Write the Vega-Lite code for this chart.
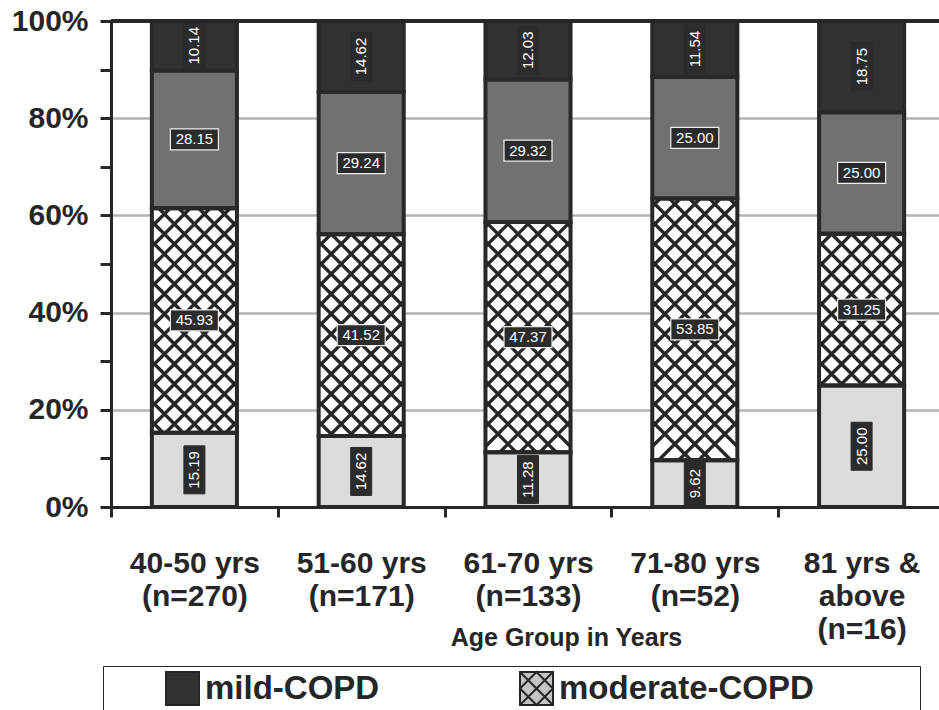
{
  "$schema": "https://vega.github.io/schema/vega-lite/v6.json",
  "width": 828,
  "height": 486,
  "autosize": {"type": "none"},
  "padding": {"left": 111, "top": 21, "right": 0, "bottom": 203},
  "background": "#ffffff",
  "config": {
    "view": {"stroke": null},
    "font": "Liberation Sans"
  },
  "data": {
    "values": [
      {"group": "40-50 yrs\n(n=270)", "category": "very severe-COPD", "value": 15.19},
      {"group": "40-50 yrs\n(n=270)", "category": "moderate-COPD", "value": 45.93},
      {"group": "40-50 yrs\n(n=270)", "category": "severe-COPD", "value": 28.15},
      {"group": "40-50 yrs\n(n=270)", "category": "mild-COPD", "value": 10.14},
      {"group": "51-60 yrs\n(n=171)", "category": "very severe-COPD", "value": 14.62},
      {"group": "51-60 yrs\n(n=171)", "category": "moderate-COPD", "value": 41.52},
      {"group": "51-60 yrs\n(n=171)", "category": "severe-COPD", "value": 29.24},
      {"group": "51-60 yrs\n(n=171)", "category": "mild-COPD", "value": 14.62},
      {"group": "61-70 yrs\n(n=133)", "category": "very severe-COPD", "value": 11.28},
      {"group": "61-70 yrs\n(n=133)", "category": "moderate-COPD", "value": 47.37},
      {"group": "61-70 yrs\n(n=133)", "category": "severe-COPD", "value": 29.32},
      {"group": "61-70 yrs\n(n=133)", "category": "mild-COPD", "value": 12.03},
      {"group": "71-80 yrs\n(n=52)", "category": "very severe-COPD", "value": 9.62},
      {"group": "71-80 yrs\n(n=52)", "category": "moderate-COPD", "value": 53.85},
      {"group": "71-80 yrs\n(n=52)", "category": "severe-COPD", "value": 25.00},
      {"group": "71-80 yrs\n(n=52)", "category": "mild-COPD", "value": 11.54},
      {"group": "81 yrs &\nabove\n(n=16)", "category": "very severe-COPD", "value": 25.00},
      {"group": "81 yrs &\nabove\n(n=16)", "category": "moderate-COPD", "value": 31.25},
      {"group": "81 yrs &\nabove\n(n=16)", "category": "severe-COPD", "value": 25.00},
      {"group": "81 yrs &\nabove\n(n=16)", "category": "mild-COPD", "value": 18.75}
    ]
  },
  "transform": [
    {"calculate": "indexof(['very severe-COPD','moderate-COPD','severe-COPD','mild-COPD'], datum.category)", "as": "ord"},
    {"stack": "value", "groupby": ["group"], "sort": [{"field": "ord", "order": "ascending"}], "offset": "normalize", "as": ["v0", "v1"]},
    {"calculate": "(datum.v0 + datum.v1) / 2", "as": "mid"}
  ],
  "layer": [
    {
      "transform": [{"filter": "datum.category === 'moderate-COPD'"}],
      "mark": {"type": "bar", "width": {"band": 0.51}, "fill": "#ffffff", "strokeWidth": 0},
      "encoding": {
        "x": {
          "field": "group", "type": "nominal", "sort": null,
          "scale": {"range": [0, 834], "paddingInner": 0, "paddingOuter": 0},
          "title": "Age Group in Years",
          "axis": {
            "labelExpr": "split(datum.label, '\\n')",
            "labelAngle": 0,
            "labelOverlap": false,
            "labelLimit": 0,
            "labelFont": "Liberation Sans",
            "labelFontSize": 30,
            "labelFontWeight": "bold",
            "labelColor": "#262626",
            "labelLineHeight": 33,
            "labelPadding": 31,
            "tickBand": "extent",
            "tickSize": 10,
            "tickWidth": 3,
            "tickColor": "#262626",
            "domainColor": "#262626",
            "domainWidth": 3,
            "grid": false,
            "titleFont": "Liberation Sans",
            "titleFontSize": 25,
            "titleFontWeight": "bold",
            "titleColor": "#262626",
            "titleX": 455,
            "titleY": 138,
            "titleAlign": "center",
            "titleBaseline": "alphabetic"
          }
        },
        "y": {
          "field": "v0", "type": "quantitative",
          "scale": {"domain": [0, 1], "nice": false, "zero": true},
          "title": null,
          "axis": {
            "values": [0, 0.05, 0.1, 0.15, 0.2, 0.25, 0.3, 0.35, 0.4, 0.45, 0.5, 0.55, 0.6, 0.65, 0.7, 0.75, 0.8, 0.85, 0.9, 0.95, 1],
            "format": ".0%",
            "labelExpr": "round(datum.value * 100) % 20 === 0 ? datum.label : ''",
            "labelFlush": false,
            "labelOverlap": false,
            "labelFont": "Liberation Sans",
            "labelFontSize": 30,
            "labelFontWeight": "bold",
            "labelColor": "#262626",
            "labelPadding": 12,
            "tickSize": 11,
            "tickWidth": 3,
            "tickColor": "#262626",
            "domainColor": "#262626",
            "domainWidth": 3,
            "grid": true,
            "gridColor": "#b4b4b4",
            "gridWidth": 2.5,
            "gridOpacity": {"condition": {"test": "round(datum.value * 100) % 20 === 0 && datum.value > 0.01 && datum.value < 0.99", "value": 1}, "value": 0}
          }
        },
        "y2": {"field": "v1"}
      }
    },
    {
      "transform": [{"filter": "datum.category === 'moderate-COPD'"}],
      "mark": {
        "type": "point",
        "shape": "M-42.5 -242.5L42.5 -157.5M-42.5 -222.5L42.5 -137.5M-42.5 -202.5L42.5 -117.5M-42.5 -182.5L42.5 -97.5M-42.5 -162.5L42.5 -77.5M-42.5 -142.5L42.5 -57.5M-42.5 -122.5L42.5 -37.5M-42.5 -102.5L42.5 -17.5M-42.5 -82.5L42.5 2.5M-42.5 -62.5L42.5 22.5M-42.5 -42.5L42.5 42.5M-42.5 -22.5L42.5 62.5M-42.5 -2.5L42.5 82.5M-42.5 17.5L42.5 102.5M-42.5 37.5L42.5 122.5M-42.5 57.5L42.5 142.5M-42.5 77.5L42.5 162.5M-42.5 97.5L42.5 182.5M-42.5 117.5L42.5 202.5M-42.5 137.5L42.5 222.5M-42.5 157.5L42.5 242.5M-42.5 -157.5L42.5 -242.5M-42.5 -137.5L42.5 -222.5M-42.5 -117.5L42.5 -202.5M-42.5 -97.5L42.5 -182.5M-42.5 -77.5L42.5 -162.5M-42.5 -57.5L42.5 -142.5M-42.5 -37.5L42.5 -122.5M-42.5 -17.5L42.5 -102.5M-42.5 2.5L42.5 -82.5M-42.5 22.5L42.5 -62.5M-42.5 42.5L42.5 -42.5M-42.5 62.5L42.5 -22.5M-42.5 82.5L42.5 -2.5M-42.5 102.5L42.5 17.5M-42.5 122.5L42.5 37.5M-42.5 142.5L42.5 57.5M-42.5 162.5L42.5 77.5M-42.5 182.5L42.5 97.5M-42.5 202.5L42.5 117.5M-42.5 222.5L42.5 137.5M-42.5 242.5L42.5 157.5",
        "size": 4,
        "filled": false,
        "stroke": "#262626",
        "strokeWidth": 3.3,
        "opacity": 1
      },
      "encoding": {
        "x": {"field": "group", "type": "nominal", "sort": null},
        "y": {"datum": 0.5, "type": "quantitative"}
      }
    },
    {
      "transform": [{"filter": "datum.category !== 'moderate-COPD'"}],
      "mark": {"type": "bar", "width": {"band": 0.51}, "stroke": "#282828", "strokeWidth": 4, "opacity": 1},
      "encoding": {
        "x": {"field": "group", "type": "nominal", "sort": null},
        "y": {"field": "v0", "type": "quantitative", "title": null},
        "y2": {"field": "v1"},
        "fill": {
          "field": "category", "type": "nominal",
          "scale": {
            "domain": ["very severe-COPD", "moderate-COPD", "severe-COPD", "mild-COPD"],
            "range": ["#dcdcdc", "#ffffff", "#717171", "#323131"]
          },
          "legend": null
        }
      }
    },
    {
      "transform": [{"filter": "datum.category === 'moderate-COPD'"}],
      "mark": {"type": "bar", "width": {"band": 0.51}, "fill": "#ffffff", "fillOpacity": 0, "stroke": "#282828", "strokeWidth": 4},
      "encoding": {
        "x": {"field": "group", "type": "nominal", "sort": null},
        "y": {"field": "v0", "type": "quantitative", "title": null},
        "y2": {"field": "v1"}
      }
    },
    {
      "transform": [{"filter": "datum.category === 'moderate-COPD' || datum.category === 'severe-COPD'"}],
      "mark": {"type": "point", "shape": "M-24 -10.5H24V10.5H-24Z", "size": 4, "filled": true, "fill": "#2b2b2b", "stroke": "#eeeeee", "strokeWidth": 1.2, "opacity": 1},
      "encoding": {
        "x": {"field": "group", "type": "nominal", "sort": null},
        "y": {"field": "mid", "type": "quantitative", "title": null}
      }
    },
    {
      "transform": [{"filter": "datum.category === 'mild-COPD' || datum.category === 'very severe-COPD'"}],
      "mark": {"type": "point", "shape": "M-10.5 -24H10.5V24H-10.5Z", "size": 4, "filled": true, "fill": "#2b2b2b", "stroke": "#2b2b2b", "strokeWidth": 1, "opacity": 1},
      "encoding": {
        "x": {"field": "group", "type": "nominal", "sort": null},
        "y": {"field": "mid", "type": "quantitative", "title": null}
      }
    },
    {
      "transform": [{"filter": "datum.category === 'moderate-COPD' || datum.category === 'severe-COPD'"}],
      "mark": {"type": "text", "font": "Liberation Sans", "fontSize": 15, "color": "#ffffff", "align": "center", "baseline": "middle"},
      "encoding": {
        "x": {"field": "group", "type": "nominal", "sort": null},
        "y": {"field": "mid", "type": "quantitative", "title": null},
        "text": {"field": "value", "type": "quantitative", "format": ".2f"}
      }
    },
    {
      "transform": [{"filter": "datum.category === 'mild-COPD' || datum.category === 'very severe-COPD'"}],
      "mark": {"type": "text", "font": "Liberation Sans", "fontSize": 15, "color": "#ffffff", "align": "center", "baseline": "middle", "angle": 270},
      "encoding": {
        "x": {"field": "group", "type": "nominal", "sort": null},
        "y": {"field": "mid", "type": "quantitative", "title": null},
        "text": {"field": "value", "type": "quantitative", "format": ".2f"}
      }
    },
    {
      "transform": [{"filter": "datum.category === 'mild-COPD'"}],
      "mark": {"type": "rule", "color": "#262626", "strokeWidth": 3},
      "encoding": {
        "y": {"datum": 1, "type": "quantitative"}
      }
    },
    {
      "transform": [{"filter": "false"}],
      "mark": {"type": "point", "filled": true, "size": 1089, "strokeWidth": 2, "opacity": 1},
      "encoding": {
        "color": {
          "field": "category", "type": "nominal",
          "scale": {
            "domain": ["mild-COPD", "moderate-COPD", "severe-COPD", "very severe-COPD"],
            "range": ["#323131", "#c4c4c4", "#717171", "#dcdcdc"]
          },
          "legend": {
            "values": ["mild-COPD", "moderate-COPD"],
            "orient": "none",
            "legendX": -8,
            "legendY": 645,
            "direction": "horizontal",
            "title": "\u00a0",
            "titleOrient": "left",
            "titlePadding": 57,
            "titleFontSize": 10,
            "symbolSize": 1089,
            "symbolStrokeWidth": 2,
            "symbolOpacity": 1,
            "labelFont": "Liberation Sans",
            "labelFontSize": 33,
            "labelFontWeight": "bold",
            "labelColor": "#262626",
            "labelOffset": 5,
            "labelLimit": 0,
            "labelExpr": "datum.label === 'moderate-COPD' ? datum.label + '\u00a0\u00a0\u00a0\u00a0\u00a0\u00a0\u00a0\u00a0\u00a0\u00a0\u00a0\u200b' : datum.label",
            "columnPadding": 136,
            "padding": 5,
            "strokeColor": "#262626"
          }
        },
        "stroke": {
          "field": "category", "type": "nominal",
          "scale": {
            "domain": ["mild-COPD", "moderate-COPD", "severe-COPD", "very severe-COPD"],
            "range": ["#262626", "#262626", "#262626", "#262626"]
          },
          "legend": {
            "values": ["mild-COPD", "moderate-COPD"],
            "orient": "none",
            "legendX": -8,
            "legendY": 645,
            "direction": "horizontal",
            "title": "\u00a0",
            "titleOrient": "left",
            "titlePadding": 57,
            "titleFontSize": 10,
            "symbolSize": 1089,
            "symbolStrokeWidth": 2,
            "symbolOpacity": 1,
            "labelFont": "Liberation Sans",
            "labelFontSize": 33,
            "labelFontWeight": "bold",
            "labelColor": "#262626",
            "labelOffset": 5,
            "labelLimit": 0,
            "labelExpr": "datum.label === 'moderate-COPD' ? datum.label + '\u00a0\u00a0\u00a0\u00a0\u00a0\u00a0\u00a0\u00a0\u00a0\u00a0\u00a0\u200b' : datum.label",
            "columnPadding": 136,
            "padding": 5,
            "strokeColor": "#262626"
          }
        },
        "shape": {
          "field": "category", "type": "nominal",
          "scale": {
            "domain": ["mild-COPD", "moderate-COPD", "severe-COPD", "very severe-COPD"],
            "range": ["square", "M-1 -1H1V1H-1ZM-1 -1L1 1M1 -1L-1 1M0 -1L1 0L0 1L-1 0Z", "square", "square"]
          },
          "legend": {
            "values": ["mild-COPD", "moderate-COPD"],
            "orient": "none",
            "legendX": -8,
            "legendY": 645,
            "direction": "horizontal",
            "title": "\u00a0",
            "titleOrient": "left",
            "titlePadding": 57,
            "titleFontSize": 10,
            "symbolSize": 1089,
            "symbolStrokeWidth": 2,
            "symbolOpacity": 1,
            "labelFont": "Liberation Sans",
            "labelFontSize": 33,
            "labelFontWeight": "bold",
            "labelColor": "#262626",
            "labelOffset": 5,
            "labelLimit": 0,
            "labelExpr": "datum.label === 'moderate-COPD' ? datum.label + '\u00a0\u00a0\u00a0\u00a0\u00a0\u00a0\u00a0\u00a0\u00a0\u00a0\u00a0\u200b' : datum.label",
            "columnPadding": 136,
            "padding": 5,
            "strokeColor": "#262626"
          }
        }
      }
    }
  ]
}
